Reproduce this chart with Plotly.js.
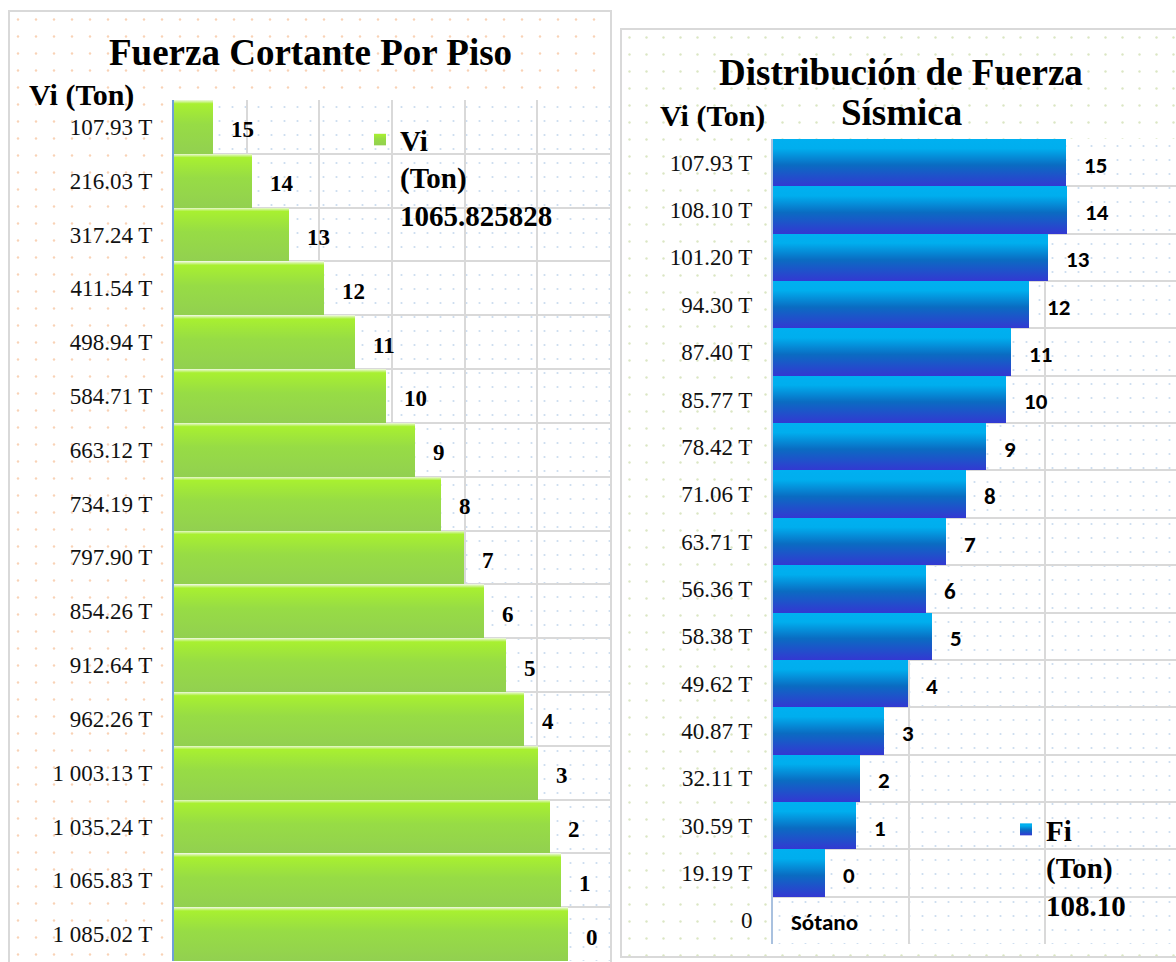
<!DOCTYPE html>
<html>
<head>
<meta charset="utf-8">
<script src="https://cdn.plot.ly/plotly-3.0.1.min.js"></script>
<style>
html,body{margin:0;padding:0;background:#fff;overflow:hidden;}
#chart{width:1176px;height:962px;}
.legendtext{font-weight:bold !important;}
</style>
</head>
<body>
<div id="chart"></div>
<script>
// ---------- DATA ----------
const leftTickLabels = ["107.93 T","216.03 T","317.24 T","411.54 T","498.94 T","584.71 T","663.12 T","734.19 T","797.90 T","854.26 T","912.64 T","962.26 T","1 003.13 T","1 035.24 T","1 065.83 T","1 085.02 T"];
const leftStories = ["15","14","13","12","11","10","9","8","7","6","5","4","3","2","1","0"];
const viValues = [107.93,216.03,317.24,411.54,498.94,584.71,663.12,734.19,797.90,854.26,912.64,962.26,1003.13,1035.24,1065.83,1085.02];
const leftLegendName = "Vi<br>(Ton)<br>1065.825828";

const rightTickLabels = ["107.93 T","108.10 T","101.20 T","94.30 T","87.40 T","85.77 T","78.42 T","71.06 T","63.71 T","56.36 T","58.38 T","49.62 T","40.87 T","32.11 T","30.59 T","19.19 T","0"];
const rightStories = ["15","14","13","12","11","10","9","8","7","6","5","4","3","2","1","0","Sótano"];
const fiValues = [107.93,108.10,101.20,94.30,87.40,85.77,78.42,71.06,63.71,56.36,58.38,49.62,40.87,32.11,30.59,19.19,0];
const rightLegendName = "Fi<br>(Ton)<br>108.10";

// ---------- helpers ----------
const W = 1176, H = 962;
const px = v => v / W;
const py = v => 1 - v / H;
const SERIF = "Liberation Serif";
const SANS = "Carlito";
const GREEN = "rgb(146, 208, 80)";
const BLUE = "rgb(0, 112, 192)";

function dotImage(w, h, sx, sy, color, r) {
  const svg = "<svg xmlns='http://www.w3.org/2000/svg' width='" + w + "' height='" + h + "'>" +
    "<defs><pattern id='p' width='" + sx + "' height='" + sy + "' patternUnits='userSpaceOnUse'>" +
    "<circle cx='" + (sx / 2) + "' cy='" + (sy / 2) + "' r='" + r + "' fill='" + color + "'/></pattern></defs>" +
    "<rect width='100%' height='100%' fill='white'/><rect width='100%' height='100%' fill='url(#p)'/></svg>";
  return "data:image/svg+xml;charset=utf-8," + encodeURIComponent(svg);
}
function bgImage(x0, y0, x1, y1, sx, sy, color, r) {
  return {
    source: dotImage(x1 - x0, y1 - y0, sx, sy, color, r),
    xref: "paper", yref: "paper", x: px(x0), y: py(y0),
    sizex: (x1 - x0) / W, sizey: (y1 - y0) / H,
    xanchor: "left", yanchor: "top", sizing: "stretch", layer: "below"
  };
}

// ---------- traces ----------
const traces = [
  {
    type: "bar", orientation: "h", name: leftLegendName,
    x: viValues, y: leftTickLabels, xaxis: "x", yaxis: "y",
    marker: {color: GREEN, line: {width: 0}},
    legend: "legend", hoverinfo: "skip"
  },
  {
    type: "bar", orientation: "h", name: rightLegendName,
    x: fiValues, y: rightTickLabels, xaxis: "x2", yaxis: "y2",
    marker: {color: BLUE, line: {width: 0}},
    legend: "legend2", hoverinfo: "skip"
  }
];

// ---------- annotations ----------
const annotations = [];
viValues.forEach((v, i) => annotations.push({
  x: v, y: i, xref: "x", yref: "y", text: "<b>" + leftStories[i] + "</b>",
  showarrow: false, xanchor: "left", yanchor: "middle", xshift: 16, yshift: -3,
  font: {family: SERIF, size: 23, color: "#000"}
}));
fiValues.forEach((v, i) => annotations.push({
  x: v, y: i, xref: "x2", yref: "y2", text: "<b>" + rightStories[i] + "</b>",
  showarrow: false, xanchor: "left", yanchor: "middle", xshift: 16, yshift: -2,
  font: {family: SANS, size: 23, color: "#000"}
}));
annotations.push(
  {xref: "paper", yref: "paper", x: px(310), y: py(53), text: "<b>Fuerza Cortante Por Piso</b>",
   showarrow: false, xanchor: "center", yanchor: "middle", font: {family: SERIF, size: 37, color: "#000"}},
  {xref: "paper", yref: "paper", x: px(901), y: py(72), text: "<b>Distribución de Fuerza</b>",
   showarrow: false, xanchor: "center", yanchor: "middle", font: {family: SERIF, size: 37, color: "#000"}},
  {xref: "paper", yref: "paper", x: px(901), y: py(113), text: "<b>Sísmica</b>",
   showarrow: false, xanchor: "center", yanchor: "middle", font: {family: SERIF, size: 37, color: "#000"}},
  {xref: "paper", yref: "paper", x: px(27), y: py(95), text: "<b>Vi (Ton)</b>",
   showarrow: false, xanchor: "left", yanchor: "middle", font: {family: SERIF, size: 30, color: "#000"}},
  {xref: "paper", yref: "paper", x: px(658), y: py(116), text: "<b>Vi (Ton)</b>",
   showarrow: false, xanchor: "left", yanchor: "middle", font: {family: SERIF, size: 30, color: "#000"}}
);

// ---------- layout ----------
const gridCol = "#d9d9d9";
const legendFont = {family: SERIF, size: 29, color: "#000", weight: "bold"};
const layout = {
  width: W, height: H,
  margin: {l: 0, r: 0, t: 0, b: 0, pad: 0},
  paper_bgcolor: "#ffffff", plot_bgcolor: "rgba(0,0,0,0)",
  bargap: 0, showlegend: true,
  xaxis: {
    domain: [px(174), px(610)], range: [0, 1200], dtick: 200, tick0: 0,
    showticklabels: false, showgrid: true, gridcolor: gridCol, gridwidth: 2,
    zeroline: false, ticks: "", fixedrange: true, anchor: "y"
  },
  yaxis: {
    domain: [py(961), py(100)], type: "category", autorange: "reversed",
    tickson: "boundaries", showgrid: true, gridcolor: gridCol, gridwidth: 2,
    ticks: "", ticklabelstandoff: 15, showline: true, linecolor: "#6f9fd8", linewidth: 2,
    tickfont: {family: SERIF, size: 23, color: "#111"}, fixedrange: true, anchor: "x"
  },
  xaxis2: {
    domain: [px(773), 1], range: [0, 148.2], dtick: 50, tick0: 0,
    showticklabels: false, showgrid: true, gridcolor: gridCol, gridwidth: 2,
    zeroline: false, ticks: "", fixedrange: true, anchor: "y2"
  },
  yaxis2: {
    domain: [py(944), py(139)], type: "category", autorange: "reversed",
    tickson: "boundaries", showgrid: true, gridcolor: gridCol, gridwidth: 2,
    ticks: "", ticklabelstandoff: 14, showline: true, linecolor: "#a9c1df", linewidth: 2,
    tickfont: {family: SERIF, size: 23, color: "#111"}, fixedrange: true, anchor: "x2"
  },
  legend: {
    x: px(360), y: py(114), xanchor: "left", yanchor: "top", valign: "top",
    bgcolor: "rgba(0,0,0,0)", borderwidth: 0, font: legendFont
  },
  legend2: {
    x: px(1006), y: py(804), xanchor: "left", yanchor: "top", valign: "top",
    bgcolor: "rgba(0,0,0,0)", borderwidth: 0, font: legendFont
  },
  images: [
    bgImage(9, 11, 611, 962, 18, 17, "#f9d2b6", 1.2),
    bgImage(621, 29, 1176, 957, 17, 17, "#dbe6c4", 1.2),
    bgImage(174, 100, 610, 961, 13, 14, "#cbdcef", 1.1),
    bgImage(773, 139, 1176, 944, 13, 14, "#cbdcef", 1.1)
  ],
  shapes: [
    {type: "rect", xref: "paper", yref: "paper", x0: px(9), x1: px(611), y0: py(975), y1: py(11),
     line: {color: "#d9d9d9", width: 2}, fillcolor: "rgba(0,0,0,0)", layer: "below"},
    {type: "rect", xref: "paper", yref: "paper", x0: px(621), x1: px(1190), y0: py(957), y1: py(29),
     line: {color: "#d9d9d9", width: 2}, fillcolor: "rgba(0,0,0,0)", layer: "below"}
  ],
  annotations: annotations
};

function addGradient(defs, id, stops) {
  const ns = "http://www.w3.org/2000/svg";
  const g = document.createElementNS(ns, "linearGradient");
  g.setAttribute("id", id);
  g.setAttribute("x1", "0"); g.setAttribute("y1", "0");
  g.setAttribute("x2", "0"); g.setAttribute("y2", "1");
  stops.forEach(s => {
    const st = document.createElementNS(ns, "stop");
    st.setAttribute("offset", s[0]);
    st.setAttribute("stop-color", s[1]);
    g.appendChild(st);
  });
  defs.appendChild(g);
}

function applyStyles(gd) {
  gd.querySelectorAll("path").forEach(p => {
    const f = p.style.fill;
    if (f === GREEN) p.style.fill = "url(#gradGreen)";
    else if (f === BLUE) p.style.fill = "url(#gradBlue)";
  });
  gd.querySelectorAll(".legendtext").forEach(t => { t.style.fontWeight = "bold"; });
}

Plotly.newPlot("chart", traces, layout, {staticPlot: true, displayModeBar: false}).then(gd => {
  const ns = "http://www.w3.org/2000/svg";
  const svg = gd.querySelector("svg.main-svg");
  let defs = svg.querySelector("defs");
  if (!defs) { defs = document.createElementNS(ns, "defs"); svg.insertBefore(defs, svg.firstChild); }
  addGradient(defs, "gradGreen", [["0", "#eef8e0"], ["0.07", "#a8f030"], ["0.45", "#97dc45"], ["1", "#92d050"]]);
  addGradient(defs, "gradBlue", [["0", "#00b0f0"], ["0.2", "#00aeee"], ["0.55", "#0a6cc2"], ["1", "#3338d2"]]);
  applyStyles(gd);
  setTimeout(() => applyStyles(gd), 50);
});
</script>
</body>
</html>
